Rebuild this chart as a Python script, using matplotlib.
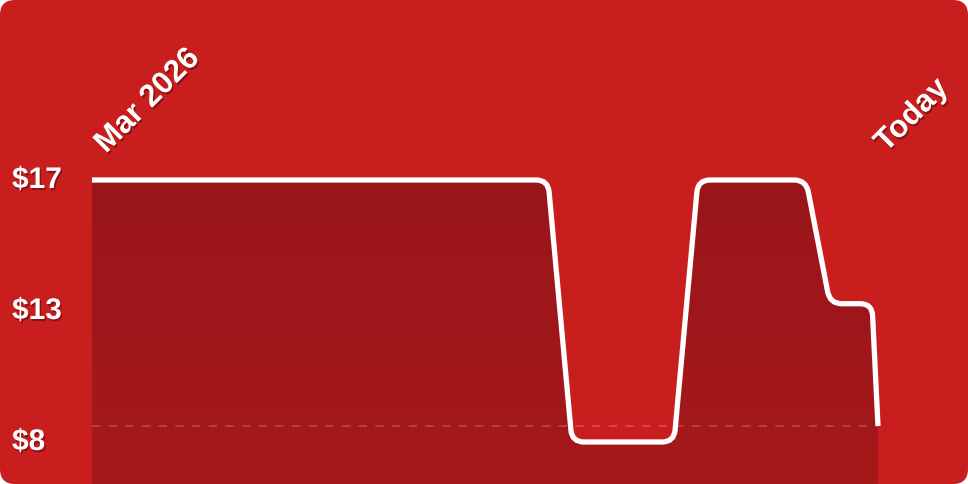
import numpy as np
import matplotlib
matplotlib.use("Agg")
import matplotlib.pyplot as plt
from matplotlib.path import Path
from matplotlib.patches import PathPatch, FancyBboxPatch
from matplotlib.transforms import IdentityTransform
from matplotlib.colors import LinearSegmentedColormap
import matplotlib.patheffects as pe

# price history (day index from Mar 1 2026 -> today)
days = [0, 76, 80, 97, 101, 119, 123, 130, 131]
prices = [17, 17, 8, 8, 17, 17, 12.75, 12.75, 8.55]
tick_values = [17, 12.5, 8]
tick_labels = ["$17", "$13", "$8"]
start_label = "Mar 2026"
end_label = "Today"

W, H = 968, 484
bg = "#c91e1e"
fill_top = "#99151a"
fill_bot = "#a6191a"

plt.rcParams["font.family"] = ["Liberation Sans", "DejaVu Sans"]

fig = plt.figure(figsize=(W / 100, H / 100), dpi=100)
fig.patch.set_facecolor("white")
card = FancyBboxPatch((0, 0), W, H, boxstyle="round,pad=0,rounding_size=15",
                      transform=IdentityTransform(), facecolor=bg,
                      edgecolor="none", zorder=-1)
fig.patches.append(card)

ax = fig.add_axes([0, 0, 1, 1])
ax.patch.set_visible(False)
ax.axis("off")

# map data to the pixel layout of the card
left_px, right_px = 92, 878
top_px, bot_px = 180, 442  # y pixel (from top) of max and min price
pmax, pmin = max(prices), min(prices)
xpp = (right_px - left_px) / (days[-1] - days[0])
ypp = (bot_px - top_px) / (pmax - pmin)
ax.set_xlim(days[0] - left_px / xpp, days[-1] + (W - right_px) / xpp)
ax.set_ylim(pmax - (H - top_px) / ypp, pmax + top_px / ypp)

pts = ax.transData.transform(np.column_stack([days, prices]))


def rounded(pts, r):
    verts = [pts[0]]
    codes = [Path.MOVETO]
    for i in range(1, len(pts) - 1):
        p0, p1, p2 = pts[i - 1], pts[i], pts[i + 1]
        d1, d2 = p1 - p0, p2 - p1
        l1, l2 = np.hypot(*d1), np.hypot(*d2)
        rr = min(r, l1 / 2, l2 / 2)
        verts += [p1 - d1 / l1 * rr, p1, p1 + d2 / l2 * rr]
        codes += [Path.LINETO, Path.CURVE3, Path.CURVE3]
    verts.append(pts[-1])
    codes.append(Path.LINETO)
    return verts, codes


verts, codes = rounded(pts, 12)
line_path = Path(verts, codes)

# fill under the line, down to the bottom edge
fverts = verts + [(pts[-1][0], 0), (pts[0][0], 0), pts[0]]
fcodes = codes + [Path.LINETO, Path.LINETO, Path.CLOSEPOLY]
fill_patch = PathPatch(Path(fverts, fcodes), transform=IdentityTransform(),
                       facecolor="none", edgecolor="none")
ax.add_patch(fill_patch)

cmap = LinearSegmentedColormap.from_list("fill", [fill_top, fill_bot])
ylo, yhi = ax.get_ylim()
im = ax.imshow(np.linspace(0, 1, 100).reshape(-1, 1), cmap=cmap, aspect="auto",
               extent=[days[0], days[-1], ylo, pmax], zorder=1)
im.set_clip_path(fill_patch)

# current price reference line
ax.plot([days[0], days[-1]], [prices[-1], prices[-1]], color="white", alpha=0.18,
        lw=1.5, dashes=(4, 4), zorder=2)

ax.add_patch(PathPatch(line_path, transform=IdentityTransform(), facecolor="none",
                       edgecolor="white", lw=3.8, capstyle="butt",
                       joinstyle="round", zorder=3))

shadow = [pe.withSimplePatchShadow(offset=(1, -1.5), shadow_rgbFace="#4a0000",
                                   alpha=0.45)]
for v, lab in zip(tick_values, tick_labels):
    ax.text(12 / W, v, lab, transform=ax.get_yaxis_transform(), ha="left",
            va="center", fontsize=21.5, fontweight="bold", color="white",
            path_effects=shadow, zorder=4)

ax.text(106 / W, 1 - 154 / H, start_label, transform=ax.transAxes, rotation=45,
        rotation_mode="anchor", ha="left", va="baseline", fontsize=22.5,
        fontweight="bold", color="white", path_effects=shadow, zorder=4)
ax.text(886 / W, 1 - 153 / H, end_label, transform=ax.transAxes, rotation=45,
        rotation_mode="anchor", ha="left", va="baseline", fontsize=22.5,
        fontweight="bold", color="white", path_effects=shadow, zorder=4)

fig.savefig("out.png", dpi=100, facecolor="white")
